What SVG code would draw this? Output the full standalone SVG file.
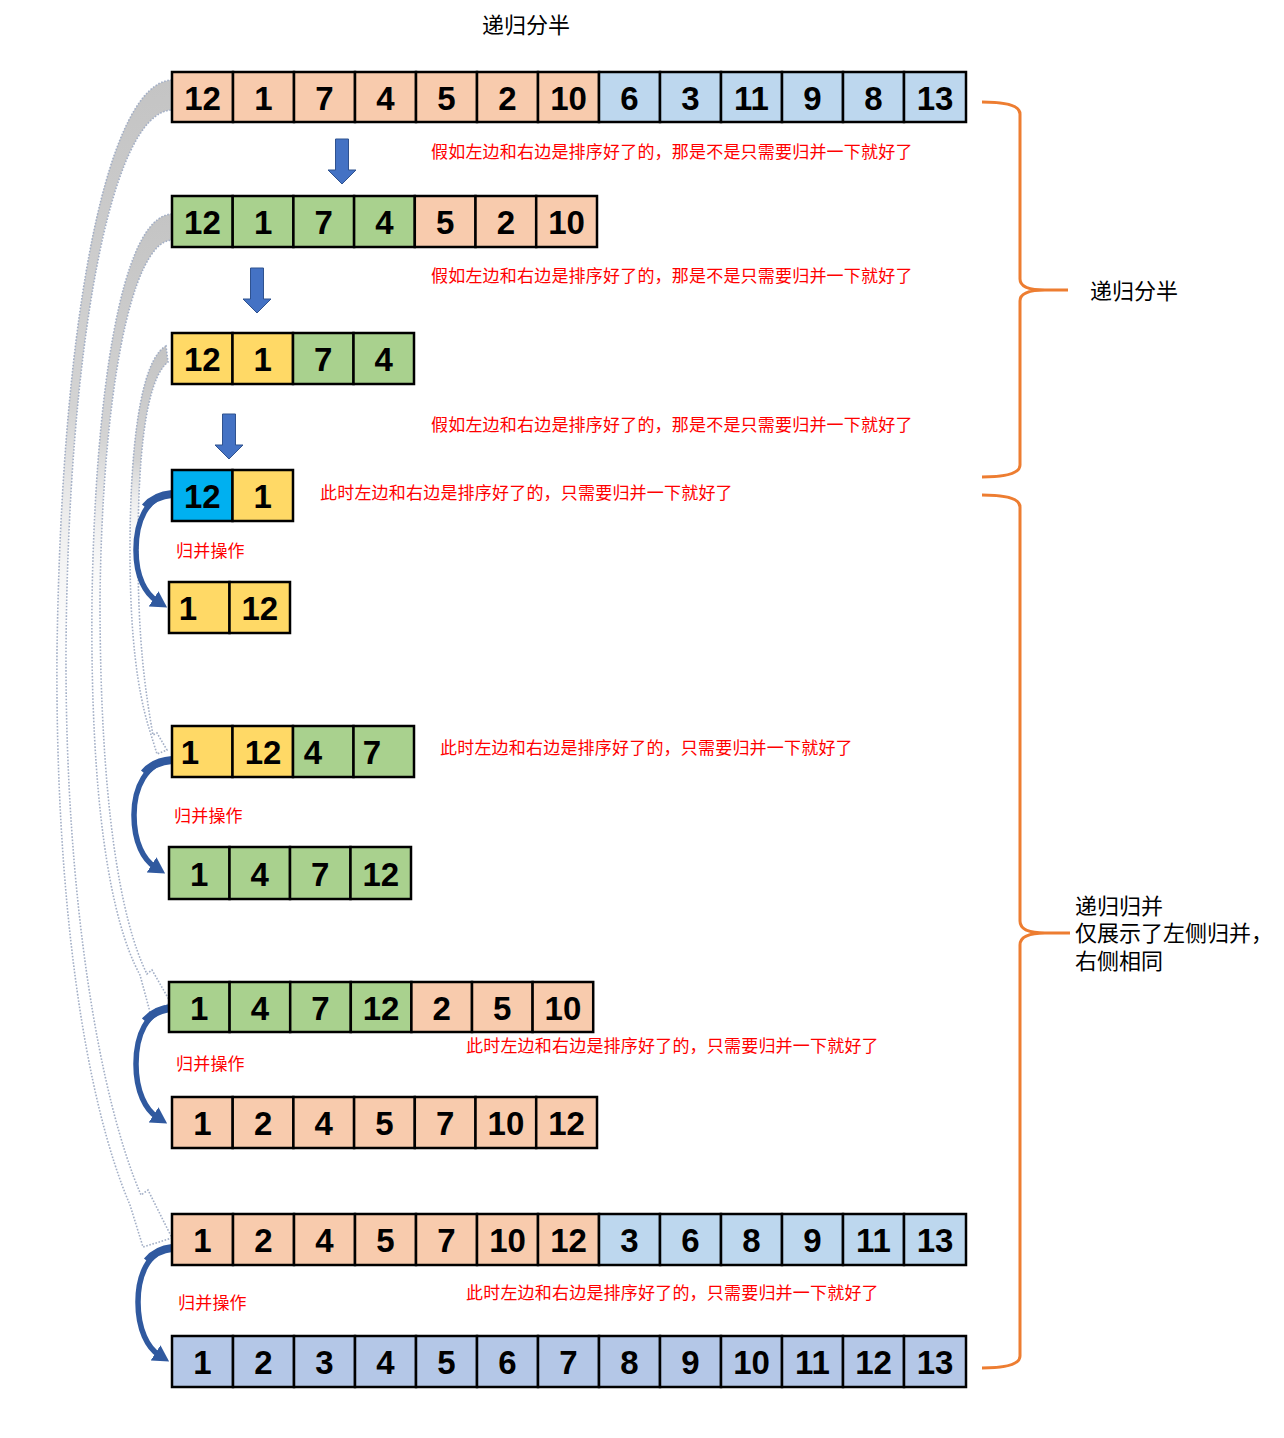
<svg xmlns="http://www.w3.org/2000/svg" width="1284" height="1438" viewBox="0 0 1284 1438">
<style>
.c{stroke:#000;stroke-width:2.5}
.pe{fill:#F8CBAD}.lb{fill:#BDD7EE}.gr{fill:#A9D18E}.ye{fill:#FFD966}.cy{fill:#00B0F0}.fb{fill:#B4C7E7}
.n{font-family:"Liberation Sans",Arial,sans-serif;font-weight:bold;font-size:33px;text-anchor:middle;fill:#000}
.r{font-family:"Liberation Sans","Noto Sans CJK SC",sans-serif;font-size:17px;letter-spacing:0.2px;fill:#FF0000}
.k{font-family:"Liberation Sans","Noto Sans CJK SC",sans-serif;font-size:22px;fill:#000}
.ga{fill:url(#gfade);stroke:#A3AFC6;stroke-width:1.6;stroke-dasharray:1.6 1.6}
.ma{fill:none;stroke:#30599F;stroke-width:5.5;marker-end:url(#mh)}
.mt{fill:none;stroke:#30599F;stroke-width:8}
.da{fill:#4472C4;stroke:#2F528F;stroke-width:1}
.br{fill:none;stroke:#ED7D31;stroke-width:3}
</style>
<defs>
<linearGradient id="gfade" x1="0" y1="0" x2="0" y2="1">
<stop offset="0" stop-color="#c4c4c4" stop-opacity="1"/>
<stop offset="0.28" stop-color="#c8c8c8" stop-opacity="0.8"/>
<stop offset="0.55" stop-color="#ffffff" stop-opacity="0"/>
</linearGradient>
<marker id="mh" markerUnits="userSpaceOnUse" markerWidth="16" markerHeight="18" refX="4" refY="9" orient="auto">
<path d="M0,0 L16,9 L0,18 Z" fill="#30599F"/>
</marker>
<path id="dn" d="M-6.5,0 H6.5 V31 H14 L0,45 L-14,31 H-6.5 Z"/>
</defs>
<rect width="1284" height="1438" fill="#fff"/>

<g id="connectors">
<path class="ga" d="M172,80 C110,82 62,300 57,650 C55,900 85,1100 130,1205 L143,1247 L172,1238 L148,1190 L141,1195 C100,1100 65,900 66,650 C68,350 110,112 172,110 Z"/>
<path class="ga" d="M172,214 C120,216 95,400 92,600 C90,800 110,920 140,975 L150,1012 L171,1003 L152,970 L147,974 C120,920 100,800 100,600 C102,400 130,242 172,240 Z"/>
<path class="ga" d="M166,346 C140,360 130,450 130,550 C130,640 138,690 148,725 L157,754 L167,750 L157,733 L153,735 C145,690 138,640 138,550 C138,460 145,380 168,362 Z"/>
<use href="#dn" class="da" x="342" y="139"/>
<use href="#dn" class="da" x="257" y="268"/>
<use href="#dn" class="da" x="229" y="414"/>
<path class="mt" d="M172,494 C160,495 151,500 145,507"/>
<path class="ma" d="M172,494 C146,496 136,522 136,550 C136,578 146,594 157,601"/>
<path class="mt" d="M172,760 C160,761 150,766 144,773"/>
<path class="ma" d="M172,760 C146,762 134,788 134,815 C134,843 144,860 155,867"/>
<path class="mt" d="M172,1008 C160,1009 151,1014 145,1021"/>
<path class="ma" d="M172,1008 C146,1010 136,1036 136,1064 C136,1092 146,1110 157,1117"/>
<path class="mt" d="M172,1248 C161,1249 153,1254 147,1261"/>
<path class="ma" d="M172,1248 C148,1250 138,1276 138,1302 C138,1330 148,1348 159,1355"/>
<path class="br" d="M982,102 Q1020,102 1020,114 L1020,279 Q1020,290 1045,290 L1068,290 M1045,290 Q1020,290 1020,301 L1020,465 Q1020,477 982,477"/>
<path class="br" d="M982,495 Q1020,495 1020,507 L1020,921 Q1020,933 1045,933 L1070,933 M1045,933 Q1020,933 1020,945 L1020,1356 Q1020,1368 982,1368"/>
</g>

<text class="k" x="526" y="33" text-anchor="middle">递归分半</text>
<text class="k" x="1090" y="299">递归分半</text>
<text class="k" x="1075" y="914">递归归并</text>
<text class="k" x="1075" y="941">仅展示了左侧归并，</text>
<text class="k" x="1075" y="969">右侧相同</text>

<text class="r" x="431" y="158">假如左边和右边是排序好了的，那是不是只需要归并一下就好了</text>
<text class="r" x="431" y="282">假如左边和右边是排序好了的，那是不是只需要归并一下就好了</text>
<text class="r" x="431" y="431">假如左边和右边是排序好了的，那是不是只需要归并一下就好了</text>
<text class="r" x="320" y="499">此时左边和右边是排序好了的，只需要归并一下就好了</text>
<text class="r" x="440" y="754">此时左边和右边是排序好了的，只需要归并一下就好了</text>
<text class="r" x="466" y="1052">此时左边和右边是排序好了的，只需要归并一下就好了</text>
<text class="r" x="466" y="1299">此时左边和右边是排序好了的，只需要归并一下就好了</text>
<text class="r" x="176" y="557">归并操作</text>
<text class="r" x="174" y="822">归并操作</text>
<text class="r" x="176" y="1070">归并操作</text>
<text class="r" x="178" y="1309">归并操作</text>

<g id="row1">
<rect class="c pe" x="172" y="72" width="61" height="50"/><rect class="c pe" x="233" y="72" width="61" height="50"/><rect class="c pe" x="294" y="72" width="61" height="50"/><rect class="c pe" x="355" y="72" width="61" height="50"/><rect class="c pe" x="416" y="72" width="61" height="50"/><rect class="c pe" x="477" y="72" width="61" height="50"/><rect class="c pe" x="538" y="72" width="61" height="50"/>
<rect class="c lb" x="599" y="72" width="61" height="50"/><rect class="c lb" x="660" y="72" width="61" height="50"/><rect class="c lb" x="721" y="72" width="61" height="50"/><rect class="c lb" x="782" y="72" width="61" height="50"/><rect class="c lb" x="843" y="72" width="61" height="50"/><rect class="c lb" x="904" y="72" width="62" height="50"/>
<text class="n" y="110"><tspan x="202.5">12</tspan><tspan x="263.5">1</tspan><tspan x="324.5">7</tspan><tspan x="385.5">4</tspan><tspan x="446.5">5</tspan><tspan x="507.5">2</tspan><tspan x="568.5">10</tspan><tspan x="629.5">6</tspan><tspan x="690.5">3</tspan><tspan x="751.5">11</tspan><tspan x="812.5">9</tspan><tspan x="873.5">8</tspan><tspan x="935">13</tspan></text>
</g>

<g id="row2">
<rect class="c gr" x="172" y="196" width="60.7" height="51"/><rect class="c gr" x="232.7" y="196" width="60.7" height="51"/><rect class="c gr" x="293.4" y="196" width="60.7" height="51"/><rect class="c gr" x="354.1" y="196" width="60.7" height="51"/>
<rect class="c pe" x="414.8" y="196" width="60.7" height="51"/><rect class="c pe" x="475.5" y="196" width="60.7" height="51"/><rect class="c pe" x="536.2" y="196" width="60.8" height="51"/>
<text class="n" y="234"><tspan x="202.4">12</tspan><tspan x="263.1">1</tspan><tspan x="323.8">7</tspan><tspan x="384.5">4</tspan><tspan x="445.2">5</tspan><tspan x="505.9">2</tspan><tspan x="566.6">10</tspan></text>
</g>

<g id="row3">
<rect class="c ye" x="172" y="333" width="60.5" height="51"/><rect class="c ye" x="232.5" y="333" width="60.5" height="51"/>
<rect class="c gr" x="293" y="333" width="60.5" height="51"/><rect class="c gr" x="353.5" y="333" width="60.5" height="51"/>
<text class="n" y="371"><tspan x="202.3">12</tspan><tspan x="262.8">1</tspan><tspan x="323.3">7</tspan><tspan x="383.8">4</tspan></text>
</g>

<g id="row4">
<rect class="c cy" x="172" y="470" width="60.5" height="51"/><rect class="c ye" x="232.5" y="470" width="60.5" height="51"/>
<text class="n" y="508"><tspan x="202.3">12</tspan><tspan x="262.8">1</tspan></text>
</g>

<g id="row5">
<rect class="c ye" x="169" y="582" width="60.5" height="51"/><rect class="c ye" x="229.5" y="582" width="60.5" height="51"/>
<text class="n" y="620"><tspan x="188">1</tspan><tspan x="259.8">12</tspan></text>
</g>

<g id="row6">
<rect class="c ye" x="172" y="726" width="60.5" height="51"/><rect class="c ye" x="232.5" y="726" width="60.5" height="51"/>
<rect class="c gr" x="293" y="726" width="60.5" height="51"/><rect class="c gr" x="353.5" y="726" width="60.5" height="51"/>
<text class="n" y="764"><tspan x="190">1</tspan><tspan x="263">12</tspan><tspan x="313">4</tspan><tspan x="372">7</tspan></text>
</g>

<g id="row7">
<rect class="c gr" x="169" y="847" width="60.5" height="52"/><rect class="c gr" x="229.5" y="847" width="60.5" height="52"/><rect class="c gr" x="290" y="847" width="60.5" height="52"/><rect class="c gr" x="350.5" y="847" width="60.5" height="52"/>
<text class="n" y="886"><tspan x="199.3">1</tspan><tspan x="259.8">4</tspan><tspan x="320.3">7</tspan><tspan x="380.8">12</tspan></text>
</g>

<g id="row8">
<rect class="c gr" x="169" y="982" width="60.6" height="50"/><rect class="c gr" x="229.6" y="982" width="60.6" height="50"/><rect class="c gr" x="290.2" y="982" width="60.6" height="50"/><rect class="c gr" x="350.8" y="982" width="60.6" height="50"/>
<rect class="c pe" x="411.4" y="982" width="60.6" height="50"/><rect class="c pe" x="472" y="982" width="60.6" height="50"/><rect class="c pe" x="532.6" y="982" width="60.6" height="50"/>
<text class="n" y="1020"><tspan x="199.3">1</tspan><tspan x="259.9">4</tspan><tspan x="320.5">7</tspan><tspan x="381.1">12</tspan><tspan x="441.7">2</tspan><tspan x="502.3">5</tspan><tspan x="562.9">10</tspan></text>
</g>

<g id="row9">
<rect class="c pe" x="172" y="1097" width="60.7" height="51"/><rect class="c pe" x="232.7" y="1097" width="60.7" height="51"/><rect class="c pe" x="293.4" y="1097" width="60.7" height="51"/><rect class="c pe" x="354.1" y="1097" width="60.7" height="51"/><rect class="c pe" x="414.8" y="1097" width="60.7" height="51"/><rect class="c pe" x="475.5" y="1097" width="60.7" height="51"/><rect class="c pe" x="536.2" y="1097" width="60.8" height="51"/>
<text class="n" y="1135"><tspan x="202.4">1</tspan><tspan x="263.1">2</tspan><tspan x="323.8">4</tspan><tspan x="384.5">5</tspan><tspan x="445.2">7</tspan><tspan x="505.9">10</tspan><tspan x="566.6">12</tspan></text>
</g>

<g id="row10">
<rect class="c pe" x="172" y="1214" width="61" height="51"/><rect class="c pe" x="233" y="1214" width="61" height="51"/><rect class="c pe" x="294" y="1214" width="61" height="51"/><rect class="c pe" x="355" y="1214" width="61" height="51"/><rect class="c pe" x="416" y="1214" width="61" height="51"/><rect class="c pe" x="477" y="1214" width="61" height="51"/><rect class="c pe" x="538" y="1214" width="61" height="51"/>
<rect class="c lb" x="599" y="1214" width="61" height="51"/><rect class="c lb" x="660" y="1214" width="61" height="51"/><rect class="c lb" x="721" y="1214" width="61" height="51"/><rect class="c lb" x="782" y="1214" width="61" height="51"/><rect class="c lb" x="843" y="1214" width="61" height="51"/><rect class="c lb" x="904" y="1214" width="62" height="51"/>
<text class="n" y="1252"><tspan x="202.5">1</tspan><tspan x="263.5">2</tspan><tspan x="324.5">4</tspan><tspan x="385.5">5</tspan><tspan x="446.5">7</tspan><tspan x="507.5">10</tspan><tspan x="568.5">12</tspan><tspan x="629.5">3</tspan><tspan x="690.5">6</tspan><tspan x="751.5">8</tspan><tspan x="812.5">9</tspan><tspan x="873.5">11</tspan><tspan x="935">13</tspan></text>
</g>

<g id="row11">
<rect class="c fb" x="172" y="1336" width="61" height="51"/><rect class="c fb" x="233" y="1336" width="61" height="51"/><rect class="c fb" x="294" y="1336" width="61" height="51"/><rect class="c fb" x="355" y="1336" width="61" height="51"/><rect class="c fb" x="416" y="1336" width="61" height="51"/><rect class="c fb" x="477" y="1336" width="61" height="51"/><rect class="c fb" x="538" y="1336" width="61" height="51"/>
<rect class="c fb" x="599" y="1336" width="61" height="51"/><rect class="c fb" x="660" y="1336" width="61" height="51"/><rect class="c fb" x="721" y="1336" width="61" height="51"/><rect class="c fb" x="782" y="1336" width="61" height="51"/><rect class="c fb" x="843" y="1336" width="61" height="51"/><rect class="c fb" x="904" y="1336" width="62" height="51"/>
<text class="n" y="1374"><tspan x="202.5">1</tspan><tspan x="263.5">2</tspan><tspan x="324.5">3</tspan><tspan x="385.5">4</tspan><tspan x="446.5">5</tspan><tspan x="507.5">6</tspan><tspan x="568.5">7</tspan><tspan x="629.5">8</tspan><tspan x="690.5">9</tspan><tspan x="751.5">10</tspan><tspan x="812.5">11</tspan><tspan x="873.5">12</tspan><tspan x="935">13</tspan></text>
</g>
</svg>
